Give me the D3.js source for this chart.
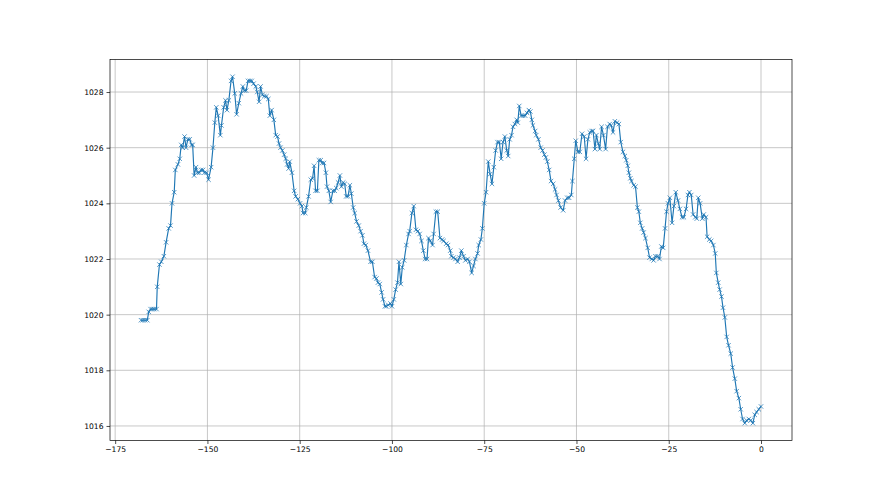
<!DOCTYPE html>
<html>
<head>
<meta charset="utf-8">
<script src="https://cdn.jsdelivr.net/npm/d3@7"></script>
<style>
  html, body { margin: 0; padding: 0; background: #fff; }
  svg { display: block; }
  text { font-family: "DejaVu Sans", sans-serif; }
</style>
</head>
<body>
<svg id="chart" width="880" height="495"></svg>
<script>
// hours relative to now
const hours = [
  -168.0,-167.5,-166.9,-166.3,-165.9,-165.4,-164.9,-164.4,-163.8,-163.6,
  -163.0,-162.5,-161.8,-161.2,-160.5,-160.0,-159.6,-159.0,-158.7,-158.0,
  -157.5,-157.1,-156.7,-156.2,-155.8,-155.3,-154.8,-154.3,-154.0,-153.6,
  -153.1,-152.7,-152.2,-151.7,-151.2,-150.8,-150.2,-149.7,-149.0,-148.5,
  -148.0,-147.6,-147.1,-146.5,-146.2,-145.6,-145.1,-144.7,-144.2,-143.6,
  -143.2,-142.6,-142.1,-141.5,-140.9,-140.4,-140.0,-139.5,-139.0,-138.5,
  -138.0,-137.5,-136.9,-136.5,-136.0,-135.6,-135.1,-134.6,-134.0,-133.5,
  -133.1,-132.6,-132.0,-131.5,-131.0,-130.6,-130.2,-129.7,-129.2,-128.8,
  -128.4,-128.0,-127.7,-127.1,-126.5,-126.1,-125.5,-124.9,-124.4,-124.1,
  -123.5,-123.2,-122.6,-122.0,-121.5,-121.1,-120.7,-120.2,-119.8,-119.3,
  -118.9,-118.4,-117.9,-117.6,-117.1,-116.6,-116.0,-115.5,-115.1,-114.6,
  -114.1,-113.7,-113.2,-112.8,-112.4,-111.9,-111.4,-111.0,-110.5,-110.1,
  -109.6,-109.0,-108.5,-108.0,-107.6,-107.1,-106.5,-105.8,-105.3,-104.7,
  -104.2,-103.8,-103.3,-102.8,-102.4,-101.9,-101.5,-101.0,-100.4,-100.0,
  -99.5,-99.0,-98.5,-98.1,-97.6,-97.2,-96.7,-96.1,-95.5,-95.2,
  -94.6,-94.1,-93.5,-93.0,-92.5,-92.0,-91.5,-91.0,-90.5,-90.1,
  -89.6,-89.0,-88.7,-88.1,-87.6,-87.0,-86.4,-86.0,-85.3,-84.8,
  -84.2,-83.9,-83.3,-82.8,-82.2,-81.7,-81.2,-80.6,-80.1,-79.5,
  -79.0,-78.4,-77.9,-77.4,-76.8,-76.5,-75.9,-75.5,-75.0,-74.5,
  -73.9,-73.4,-72.9,-72.4,-71.9,-71.4,-70.9,-70.4,-69.9,-69.4,
  -68.9,-68.5,-68.1,-67.6,-67.2,-66.7,-66.2,-65.9,-65.5,-65.0,
  -64.5,-63.9,-63.4,-62.9,-62.5,-62.1,-61.8,-61.2,-60.9,-60.3,
  -59.7,-59.2,-58.7,-58.3,-57.9,-57.4,-56.9,-56.3,-55.8,-55.4,
  -54.9,-54.3,-53.6,-53.1,-52.5,-52.0,-51.4,-51.1,-50.6,-50.2,
  -49.6,-49.1,-48.5,-47.9,-47.4,-46.9,-46.4,-45.9,-45.5,-45.0,
  -44.6,-44.1,-43.7,-43.2,-42.7,-42.1,-41.6,-41.0,-40.6,-40.1,
  -39.6,-39.0,-38.5,-38.0,-37.4,-36.9,-36.5,-36.1,-35.8,-35.4,
  -35.1,-34.5,-34.0,-33.5,-33.1,-32.7,-32.2,-31.8,-31.3,-30.7,
  -30.2,-29.6,-29.1,-28.6,-28.0,-27.5,-27.0,-26.5,-26.0,-25.6,
  -25.2,-24.7,-24.1,-23.6,-23.1,-22.5,-22.0,-21.4,-20.9,-20.3,
  -19.8,-19.4,-18.9,-18.4,-17.8,-17.4,-17.0,-16.5,-15.9,-15.5,
  -14.9,-14.6,-14.0,-13.5,-12.9,-12.4,-12.1,-11.6,-11.2,-10.7,
  -10.3,-9.8,-9.3,-8.8,-8.2,-7.7,-7.1,-6.6,-6.0,-5.5,
  -5.0,-4.4,-3.9,-3.3,-2.8,-2.2,-1.7,-1.2,-0.6,0.0
];
// pressure (hPa)
const pressure = [
  1019.8,1019.8,1019.8,1019.8,1020.1,1020.2,1020.2,1020.2,1020.2,1021.0,
  1021.8,1021.9,1022.1,1022.6,1023.1,1023.2,1024.0,1024.4,1025.2,1025.4,
  1025.6,1026.1,1026.0,1026.4,1026.0,1026.3,1026.3,1026.1,1026.1,1025.0,
  1025.3,1025.1,1025.1,1025.2,1025.2,1025.1,1025.1,1024.85,1025.3,1026.0,
  1026.9,1027.45,1027.15,1026.45,1026.8,1027.45,1027.7,1027.35,1027.7,1028.4,
  1028.55,1027.95,1027.2,1027.6,1027.95,1028.2,1028.05,1028.05,1028.4,1028.4,
  1028.4,1028.3,1028.2,1028.0,1027.65,1028.2,1027.9,1027.85,1027.85,1027.75,
  1027.15,1027.35,1027.0,1026.45,1026.4,1026.15,1026.0,1025.9,1025.75,1025.6,
  1025.4,1025.25,1025.5,1025.1,1024.45,1024.25,1024.15,1024.0,1023.9,1023.65,
  1023.65,1023.85,1024.25,1024.85,1024.9,1025.35,1024.45,1024.45,1025.55,1025.55,
  1025.45,1025.45,1025.1,1024.6,1024.45,1024.05,1024.45,1024.45,1024.55,1024.75,
  1025.0,1024.6,1024.75,1024.7,1024.25,1024.25,1024.65,1024.35,1023.85,1023.65,
  1023.35,1023.2,1023.0,1022.85,1022.55,1022.5,1022.3,1021.9,1021.9,1021.35,
  1021.3,1021.15,1021.1,1020.8,1020.55,1020.3,1020.3,1020.35,1020.4,1020.3,
  1020.55,1020.9,1021.15,1021.9,1021.1,1021.7,1021.95,1022.5,1022.9,1023.0,
  1023.65,1023.9,1023.05,1023.0,1022.9,1022.65,1022.3,1022.0,1022.0,1022.75,
  1022.65,1022.5,1022.9,1023.7,1023.7,1022.75,1022.7,1022.65,1022.55,1022.5,
  1022.3,1022.1,1022.05,1022.0,1021.9,1022.05,1022.3,1022.1,1021.95,1022.0,
  1021.9,1021.5,1021.75,1022.0,1022.2,1022.5,1022.7,1023.1,1024.0,1024.4,
  1025.5,1025.05,1024.7,1025.3,1025.9,1026.2,1026.2,1025.6,1026.2,1026.4,
  1025.9,1025.7,1026.3,1026.45,1026.75,1026.85,1027.0,1026.9,1027.5,1027.15,
  1027.15,1027.15,1027.25,1027.35,1027.3,1027.0,1026.8,1026.6,1026.45,1026.3,
  1026.0,1025.9,1025.75,1025.65,1025.5,1025.2,1024.8,1024.7,1024.5,1024.3,
  1024.1,1023.85,1023.75,1024.1,1024.2,1024.2,1024.3,1024.8,1025.6,1026.25,
  1025.85,1025.85,1026.5,1026.4,1025.6,1026.3,1026.55,1026.6,1026.6,1025.95,
  1026.45,1026.15,1025.95,1026.75,1026.45,1025.95,1026.75,1026.85,1026.8,1026.55,
  1026.95,1026.9,1026.85,1026.2,1025.85,1025.7,1025.55,1025.35,1025.1,1024.9,
  1024.8,1024.65,1024.6,1023.85,1023.7,1023.3,1023.1,1022.95,1022.75,1022.4,
  1022.05,1022.0,1021.95,1022.1,1022.1,1022.0,1022.45,1022.4,1023.1,1023.7,
  1024.0,1024.2,1023.3,1023.9,1024.4,1024.1,1023.8,1023.5,1023.5,1023.8,
  1024.3,1024.4,1024.3,1023.6,1023.5,1023.45,1024.2,1024.0,1023.45,1023.6,
  1023.5,1022.8,1022.7,1022.65,1022.5,1022.2,1021.5,1021.15,1020.9,1020.65,
  1020.25,1019.9,1019.2,1018.9,1018.6,1018.1,1017.7,1017.25,1017.0,1016.6,
  1016.25,1016.1,1016.2,1016.25,1016.2,1016.1,1016.4,1016.5,1016.6,1016.7
];
const xTicks = [-175, -150, -125, -100, -75, -50, -25, 0];
const yTicks = [1016, 1018, 1020, 1022, 1024, 1026, 1028];

const W = 880, H = 495;
const mLeft = 110, mRight = 792, mTop = 59.4, mBottom = 440.5;
const data = hours.map((h, i) => ({x: h, y: pressure[i]}));

const xMin = d3.min(hours), xMax = d3.max(hours);
const yMin = d3.min(pressure), yMax = d3.max(pressure);
const xPad = (xMax - xMin) * 0.05, yPad = (yMax - yMin) * 0.05;

const x = d3.scaleLinear().domain([xMin - xPad, xMax + xPad]).range([mLeft, mRight]);
const y = d3.scaleLinear().domain([yMin - yPad, yMax + yPad]).range([mBottom, mTop]);

const svg = d3.select("#chart");
svg.append("rect").attr("width", W).attr("height", H).attr("fill", "#fff");

// grid
const grid = svg.append("g").attr("stroke", "#b0b0b0").attr("stroke-width", 0.7);
grid.selectAll("line.gx").data(xTicks).join("line").attr("class", "gx")
  .attr("x1", d => x(d)).attr("x2", d => x(d)).attr("y1", mTop).attr("y2", mBottom);
grid.selectAll("line.gy").data(yTicks).join("line").attr("class", "gy")
  .attr("y1", d => y(d)).attr("y2", d => y(d)).attr("x1", mLeft).attr("x2", mRight);

// axes
const xAxis = d3.axisBottom(x).tickValues(xTicks).tickSize(3.5).tickPadding(3)
  .tickFormat(d => d < 0 ? "\u2212" + Math.abs(d) : String(d));
const yAxis = d3.axisLeft(y).tickValues(yTicks).tickSize(3.5).tickPadding(3)
  .tickFormat(d => String(d));

const gx = svg.append("g").attr("transform", `translate(0,${mBottom})`).call(xAxis);
const gy = svg.append("g").attr("transform", `translate(${mLeft},0)`).call(yAxis);
[gx, gy].forEach(g => {
  g.select(".domain").remove();
  g.selectAll("line").attr("stroke", "#000").attr("stroke-width", 0.7);
  g.selectAll("text").attr("fill", "#000").attr("font-size", "7.6px").attr("font-family", "DejaVu Sans, sans-serif");
});

// line
const line = d3.line().x(d => x(d.x)).y(d => y(d.y));
svg.append("path").datum(data)
  .attr("fill", "none").attr("stroke", "#1f77b4").attr("stroke-width", 1.15)
  .attr("stroke-linejoin", "round")
  .attr("d", line);

// x markers
const ms = 2.2;
svg.append("g").selectAll("path").data(data).join("path")
  .attr("d", d => {
    const cx = x(d.x), cy = y(d.y);
    return `M${cx-ms},${cy-ms}L${cx+ms},${cy+ms}M${cx-ms},${cy+ms}L${cx+ms},${cy-ms}`;
  })
  .attr("stroke", "#1f77b4").attr("stroke-width", 0.75).attr("fill", "none");

// spines
svg.append("rect").attr("x", mLeft).attr("y", mTop).attr("width", mRight - mLeft).attr("height", mBottom - mTop)
  .attr("fill", "none").attr("stroke", "#000").attr("stroke-width", 0.7);
</script>
</body>
</html>
